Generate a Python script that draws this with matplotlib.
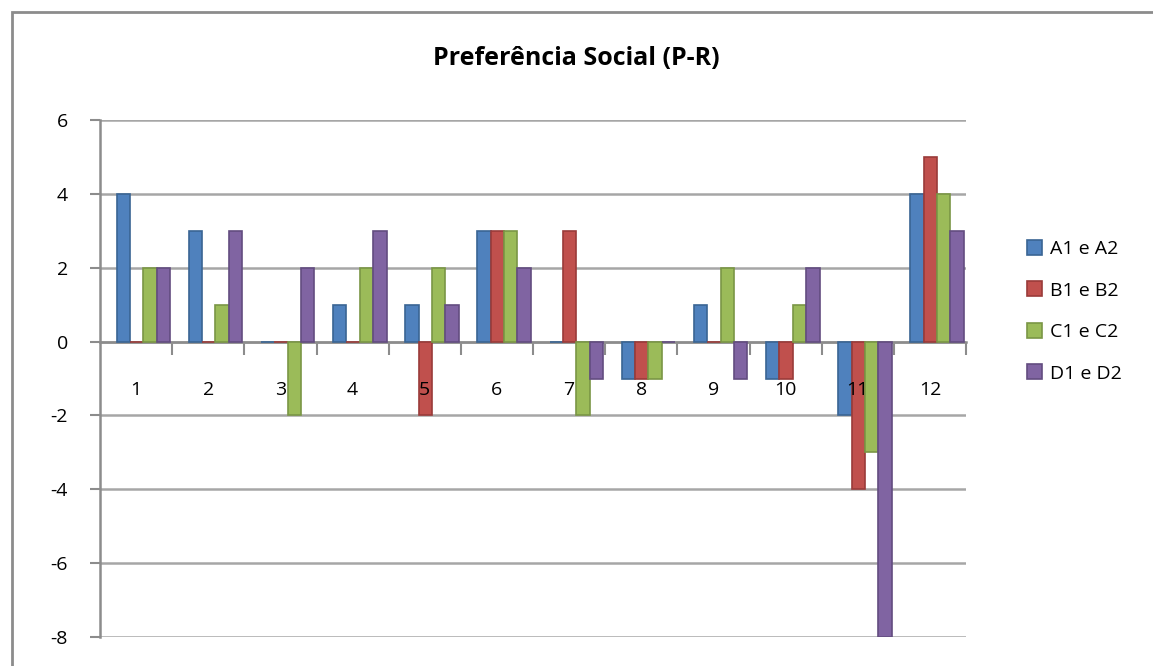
import matplotlib.pyplot as plt
from matplotlib.patches import Rectangle
import numpy as np

plt.rcParams['font.family'] = ['Open Sans', 'DejaVu Sans']

categories = ['1', '2', '3', '4', '5', '6', '7', '8', '9', '10', '11', '12']
series_names = ['A1 e A2', 'B1 e B2', 'C1 e C2', 'D1 e D2']
a_vals = [4, 3, 0, 1, 1, 3, 0, -1, 1, -1, -2, 4]
b_vals = [0, 0, 0, 0, -2, 3, 3, -1, 0, -1, -4, 5]
c_vals = [2, 1, -2, 2, 2, 3, -2, -1, 2, 1, -3, 4]
d_vals = [2, 3, 2, 3, 1, 2, -1, 0, -1, 2, -8, 3]
yticks = [-8, -6, -4, -2, 0, 2, 4, 6]

colors = ['#4F81BD', '#C0504D', '#9BBB59', '#8064A2']
edges = ['#3A6594', '#9A3B39', '#7A9645', '#634D80']

fig = plt.figure(figsize=(11.53, 6.66), dpi=100)
fig.patches.append(Rectangle((12 / 1153, -0.01), 1.02, 1 - 12 / 666 + 0.01,
                             transform=fig.transFigure, fill=False,
                             edgecolor='#8c8c8c', linewidth=2))

ax = fig.add_axes([100 / 1153, 29 / 666, 866 / 1153, 517 / 666])
x = np.arange(len(categories))
w = 0.185
offset = 0.1
for i, vals in enumerate([a_vals, b_vals, c_vals, d_vals]):
    pos = x + offset + (i - 1.5) * w
    ax.bar(pos, vals, width=w, color=colors[i], edgecolor=edges[i],
           linewidth=1.2, label=series_names[i], zorder=3)

ax.set_xlim(-0.5, len(categories) - 0.5)
ax.set_ylim(-8, 6)
ax.set_yticks(yticks)
ax.set_yticklabels([str(t) for t in yticks], fontsize=14)
ax.yaxis.grid(True, color='#a6a6a6', linewidth=1.8, zorder=0)
ax.tick_params(axis='y', length=7, width=1.5, color='#8c8c8c', pad=16)

ax.spines['top'].set_visible(False)
ax.spines['right'].set_visible(False)
ax.spines['left'].set_color('#8c8c8c')
ax.spines['left'].set_linewidth(1.8)
ax.spines['bottom'].set_position(('data', 0))
ax.spines['bottom'].set_color('#8c8c8c')
ax.spines['bottom'].set_linewidth(1.8)
ax.set_xticks(np.arange(len(categories)) + 0.5)
ax.set_xticklabels([])
ax.tick_params(axis='x', length=9, width=1.5, color='#8c8c8c', direction='out')

for xi, lab in zip(x, categories):
    ax.text(xi, -1.3, lab, ha='center', va='center', fontsize=14, zorder=5)

ax.set_facecolor('none')
fig.text(0.5, 0.912, 'Preferência Social (P-R)', ha='center', va='center',
         fontsize=18, fontweight='bold')

ax.legend(loc='center left', bbox_to_anchor=(1.05, 0.63), frameon=False,
          fontsize=14, handlelength=0.8, handleheight=0.8, labelspacing=1.2,
          handletextpad=0.4)

fig.savefig('out.png', dpi=100)
